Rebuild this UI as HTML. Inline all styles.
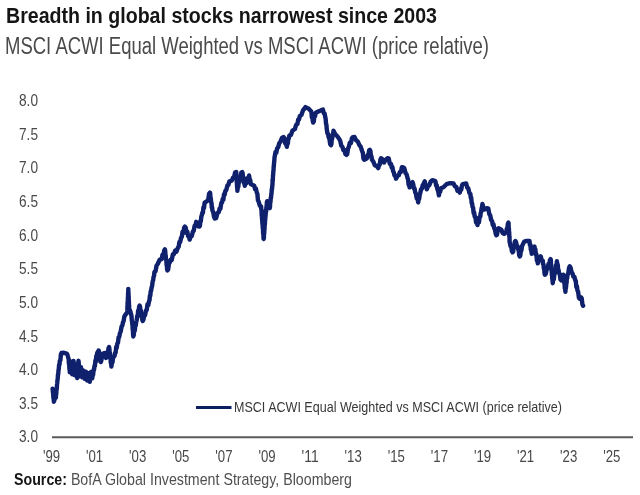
<!DOCTYPE html>
<html><head><meta charset="utf-8"><style>
html,body{margin:0;padding:0;background:#fff;width:640px;height:495px;overflow:hidden}
svg{display:block;will-change:transform}
text{font-family:"Liberation Sans",sans-serif}
</style></head><body>
<svg width="640" height="495" viewBox="0 0 640 495">
<rect width="640" height="495" fill="#fff"/>
<text x="6" y="22.7" font-size="22.6" font-weight="bold" fill="#151515" textLength="431" lengthAdjust="spacingAndGlyphs">Breadth in global stocks narrowest since 2003</text>
<text x="5" y="53.8" font-size="23" fill="#4a4a4a" textLength="484" lengthAdjust="spacingAndGlyphs">MSCI ACWI Equal Weighted vs MSCI ACWI (price relative)</text>
<g font-size="16.5" fill="#484848">
<text x="19" y="106.2" textLength="19" lengthAdjust="spacingAndGlyphs">8.0</text>
<text x="19" y="139.8" textLength="19" lengthAdjust="spacingAndGlyphs">7.5</text>
<text x="19" y="173.4" textLength="19" lengthAdjust="spacingAndGlyphs">7.0</text>
<text x="19" y="207.1" textLength="19" lengthAdjust="spacingAndGlyphs">6.5</text>
<text x="19" y="240.7" textLength="19" lengthAdjust="spacingAndGlyphs">6.0</text>
<text x="19" y="274.3" textLength="19" lengthAdjust="spacingAndGlyphs">5.5</text>
<text x="19" y="307.9" textLength="19" lengthAdjust="spacingAndGlyphs">5.0</text>
<text x="19" y="341.5" textLength="19" lengthAdjust="spacingAndGlyphs">4.5</text>
<text x="19" y="375.2" textLength="19" lengthAdjust="spacingAndGlyphs">4.0</text>
<text x="19" y="408.8" textLength="19" lengthAdjust="spacingAndGlyphs">3.5</text>
<text x="19" y="442.4" textLength="19" lengthAdjust="spacingAndGlyphs">3.0</text>

<text x="42.9" y="461.6" textLength="17.2" lengthAdjust="spacingAndGlyphs">'99</text>
<text x="86.0" y="461.6" textLength="17.2" lengthAdjust="spacingAndGlyphs">'01</text>
<text x="129.1" y="461.6" textLength="17.2" lengthAdjust="spacingAndGlyphs">'03</text>
<text x="172.2" y="461.6" textLength="17.2" lengthAdjust="spacingAndGlyphs">'05</text>
<text x="215.3" y="461.6" textLength="17.2" lengthAdjust="spacingAndGlyphs">'07</text>
<text x="258.4" y="461.6" textLength="17.2" lengthAdjust="spacingAndGlyphs">'09</text>
<text x="301.5" y="461.6" textLength="17.2" lengthAdjust="spacingAndGlyphs">'11</text>
<text x="344.6" y="461.6" textLength="17.2" lengthAdjust="spacingAndGlyphs">'13</text>
<text x="387.7" y="461.6" textLength="17.2" lengthAdjust="spacingAndGlyphs">'15</text>
<text x="430.8" y="461.6" textLength="17.2" lengthAdjust="spacingAndGlyphs">'17</text>
<text x="473.9" y="461.6" textLength="17.2" lengthAdjust="spacingAndGlyphs">'19</text>
<text x="517.0" y="461.6" textLength="17.2" lengthAdjust="spacingAndGlyphs">'21</text>
<text x="560.1" y="461.6" textLength="17.2" lengthAdjust="spacingAndGlyphs">'23</text>
<text x="603.2" y="461.6" textLength="17.2" lengthAdjust="spacingAndGlyphs">'25</text>

</g>
<line x1="52" y1="437.2" x2="633" y2="437.2" stroke="#5a5a5a" stroke-width="2"/>
<line x1="196" y1="407.5" x2="231.5" y2="407.5" stroke="#0c1f5e" stroke-width="3"/>
<text x="234" y="411.9" font-size="14.8" fill="#383838" textLength="328" lengthAdjust="spacingAndGlyphs">MSCI ACWI Equal Weighted vs MSCI ACWI (price relative)</text>
<polyline points="52.6,388.6 52.9,392.3 53.1,393.0 53.4,398.0 53.6,398.3 53.9,401.7 54.9,398.4 55.9,397.7 56.1,394.2 56.3,393.6 56.5,389.2 56.8,388.8 57.0,384.5 57.2,383.3 57.5,379.9 57.7,378.8 58.0,374.2 58.2,374.5 58.5,370.2 58.8,368.7 59.1,364.7 59.5,364.8 59.8,361.0 60.4,360.2 60.9,354.3 61.5,353.0 64.0,352.8 66.6,353.5 67.5,355.0 68.5,358.8 68.7,359.1 68.9,364.0 69.2,363.8 69.4,368.9 69.6,369.3 69.8,372.4 70.1,368.9 70.4,368.0 70.7,362.5 71.0,361.5 71.2,363.2 71.5,368.0 71.7,367.6 72.0,372.8 72.2,374.2 72.4,373.3 72.6,369.0 72.8,368.3 73.1,364.4 73.3,364.7 73.5,360.9 73.7,364.5 73.9,364.6 74.2,369.5 74.4,369.2 74.6,373.9 74.8,375.2 75.1,374.3 75.4,368.4 75.7,368.4 76.0,364.8 76.2,368.4 76.4,367.9 76.6,373.2 76.8,372.0 77.0,376.8 77.2,378.0 77.4,377.5 77.6,372.3 77.8,371.8 77.9,366.5 78.1,366.6 78.3,362.0 78.5,360.8 78.7,362.3 78.9,366.8 79.1,365.8 79.2,371.1 79.4,370.2 79.6,375.2 79.8,376.4 80.1,375.7 80.4,370.4 80.7,370.9 81.0,367.2 81.3,371.0 81.6,370.5 81.9,376.7 82.2,377.3 82.6,376.3 83.1,371.3 83.5,370.6 83.9,372.6 84.4,377.6 84.8,378.8 85.2,378.0 85.6,372.2 86.0,371.8 86.3,372.3 86.6,377.2 86.9,377.2 87.2,380.6 87.6,376.6 88.1,376.3 88.5,373.1 88.9,377.3 89.4,378.0 89.8,381.8 90.1,378.6 90.4,377.7 90.7,372.9 91.0,372.1 91.6,374.4 92.2,378.4 92.7,375.1 93.1,375.0 93.6,369.7 94.0,370.0 94.5,365.7 94.9,366.0 95.4,360.5 95.8,361.7 96.3,355.9 96.7,356.4 97.2,353.1 98.6,350.5 99.1,351.6 99.5,356.2 100.0,355.6 100.4,361.6 100.9,362.0 101.4,360.2 102.0,355.8 102.5,354.0 104.1,353.0 105.0,356.5 106.0,358.0 106.6,356.8 107.2,352.3 107.9,352.8 108.5,348.2 109.1,347.0 109.4,348.8 109.7,353.1 110.0,353.2 110.2,358.1 110.5,357.3 110.8,363.2 111.1,362.7 111.4,366.5 111.9,362.2 112.5,362.4 113.0,358.0 114.5,356.0 115.1,352.8 115.6,352.9 116.2,346.9 116.7,347.9 117.3,343.6 118.0,342.7 118.6,337.3 119.2,337.1 119.9,333.4 120.7,331.5 121.6,326.5 122.4,325.3 123.0,322.1 123.6,321.2 124.2,317.1 124.8,315.6 127.2,312.4 127.3,310.9 127.4,306.6 127.5,306.1 127.6,302.3 127.8,301.5 127.9,297.5 128.0,297.1 128.1,292.9 128.2,293.0 128.3,288.9 128.4,292.6 128.5,292.5 128.6,296.6 128.7,296.8 128.8,301.2 128.9,301.6 129.0,306.4 129.1,304.9 129.2,309.1 130.2,310.8 131.2,315.0 131.5,316.0 131.8,320.3 132.0,321.0 132.3,324.0 132.5,325.4 132.7,330.0 132.9,329.8 133.1,334.9 133.3,336.5 133.8,334.8 134.3,329.8 134.8,330.6 135.2,326.0 135.7,325.8 136.2,322.0 136.7,320.3 137.2,315.9 137.7,316.9 138.1,310.8 138.6,311.8 139.1,306.9 139.6,305.5 140.0,306.6 140.5,310.8 140.9,310.5 141.4,315.7 141.8,314.9 142.3,319.9 142.7,321.0 143.5,319.4 144.3,314.1 145.1,315.2 145.9,310.7 146.7,310.0 147.5,304.2 148.3,305.1 149.1,301.0 149.5,300.4 149.9,295.7 150.3,295.8 150.7,291.2 151.1,290.9 151.5,288.0 152.1,286.0 152.6,281.7 153.2,280.0 153.6,276.4 154.0,276.3 154.4,272.1 155.5,271.3 156.6,265.5 157.7,264.0 159.7,259.7 161.7,259.1 162.5,254.7 163.3,256.1 164.1,250.7 164.9,249.4 165.2,250.8 165.5,255.0 165.7,255.5 166.0,259.7 166.3,259.7 166.6,265.3 166.8,264.1 167.1,269.4 167.4,270.5 168.2,269.3 169.0,263.4 169.8,262.4 170.8,259.6 171.8,259.9 172.8,254.5 173.8,254.3 175.2,250.5 176.5,251.6 177.9,247.8 178.7,246.6 179.4,242.0 180.2,242.1 181.0,238.0 181.8,236.8 182.6,231.7 183.3,233.1 184.1,227.7 184.9,226.6 185.7,227.6 186.5,232.8 187.3,231.5 188.1,236.1 188.9,236.6 189.7,239.6 190.8,236.1 191.8,236.0 192.9,231.5 193.7,230.8 194.6,225.8 195.4,225.9 196.2,221.8 197.8,226.1 199.4,226.6 199.9,225.8 200.4,221.0 200.8,221.2 201.3,216.7 201.8,215.3 202.4,212.5 202.9,212.9 203.4,207.4 204.0,208.0 204.6,202.7 205.1,202.4 207.5,200.7 208.3,199.2 209.1,193.6 209.9,192.7 210.2,193.2 210.5,198.1 210.8,198.4 211.2,202.6 211.5,202.9 211.8,207.5 212.1,207.3 212.4,210.5 213.2,212.0 214.0,216.7 214.8,218.5 216.1,218.2 217.5,213.1 218.8,212.1 219.6,208.4 220.4,208.7 221.3,203.0 222.1,202.4 222.7,198.9 223.4,199.7 224.0,194.3 224.7,194.6 225.3,191.0 226.3,189.9 227.4,185.5 228.4,184.9 229.4,181.3 231.9,180.6 233.0,177.6 234.1,177.0 235.1,172.5 236.2,172.0 236.3,173.5 236.5,178.0 236.7,177.5 236.8,182.8 236.9,182.7 237.1,187.5 237.2,187.2 237.4,190.9 237.8,186.8 238.3,186.9 238.7,182.3 239.2,182.3 239.6,178.9 240.5,177.6 241.3,172.6 242.2,172.0 242.6,173.0 243.1,178.0 243.5,177.3 243.9,183.0 244.4,182.3 244.8,185.8 245.7,182.3 246.5,183.0 247.4,178.3 248.2,179.1 249.1,175.5 249.7,179.6 250.2,179.9 250.8,184.1 254.2,185.8 255.1,189.3 255.9,188.5 256.8,192.6 257.4,193.9 257.9,200.1 258.5,201.2 259.8,205.7 261.1,206.4 261.3,209.7 261.5,209.7 261.7,215.3 261.8,214.0 262.0,218.9 262.2,219.6 262.4,223.9 262.6,224.3 262.8,228.3 263.0,228.9 263.1,233.5 263.3,232.7 263.5,238.5 263.7,239.0 263.9,237.6 264.0,233.0 264.2,233.8 264.4,229.2 264.5,229.6 264.7,223.7 264.9,224.3 265.1,219.3 265.2,220.1 265.4,216.7 265.6,215.8 265.9,210.3 266.1,211.8 266.4,207.0 266.6,206.8 266.9,202.1 267.1,201.2 268.0,202.4 268.8,206.7 269.7,208.1 270.0,206.9 270.2,202.1 270.5,202.1 270.7,197.8 271.0,198.2 271.3,194.0 271.5,193.6 271.8,188.8 272.0,189.3 272.3,185.8 272.5,184.3 272.6,179.4 272.8,180.8 273.0,174.9 273.1,175.4 273.3,171.4 273.5,170.8 273.7,166.2 273.8,166.6 274.0,163.4 274.2,161.9 274.5,157.6 274.7,156.5 275.5,152.0 276.3,152.8 277.1,148.4 278.2,147.2 279.3,143.2 280.4,141.9 282.0,137.7 283.6,137.1 284.4,138.1 285.2,143.5 286.0,143.6 286.8,146.8 287.3,143.8 287.8,143.8 288.3,138.8 288.8,138.5 289.3,135.5 290.9,134.9 292.5,130.6 294.9,129.0 296.1,125.1 297.4,124.1 298.2,119.7 299.0,119.5 299.8,116.0 301.4,115.0 303.0,110.4 305.5,107.1 308.7,108.8 311.1,111.2 311.5,112.7 311.9,117.5 312.4,116.7 312.8,121.3 313.2,122.5 313.8,121.4 314.4,115.8 315.1,116.2 315.7,112.8 318.9,111.2 322.9,109.6 323.7,113.1 324.6,113.7 325.4,117.7 325.7,119.3 326.0,123.7 326.4,124.6 326.7,128.7 327.0,130.6 327.5,133.7 328.1,133.9 328.6,137.1 329.4,138.8 330.2,144.1 331.0,145.2 331.4,143.8 331.8,139.0 332.2,138.8 332.7,134.4 333.1,133.7 333.5,130.6 335.1,134.0 336.7,135.5 339.1,138.7 340.2,140.7 341.3,145.7 342.4,146.8 343.4,150.2 344.4,150.0 345.4,154.1 346.4,154.9 347.2,154.1 348.0,148.7 348.8,146.8 349.8,142.7 350.9,143.2 351.9,138.2 352.9,137.1 354.5,137.0 356.1,140.3 357.8,141.6 359.4,145.2 360.8,146.9 362.1,151.2 362.8,152.5 363.5,158.8 364.2,159.7 367.0,158.2 367.7,155.0 368.4,155.7 369.1,150.3 369.8,149.8 370.4,150.8 370.9,155.9 371.4,156.1 372.0,159.7 373.4,161.8 374.8,165.3 376.6,165.9 378.3,168.1 379.0,164.9 379.7,164.8 380.4,159.7 381.1,158.2 382.6,159.5 384.0,162.5 385.8,159.6 387.5,158.2 388.7,158.4 389.8,163.8 391.0,163.9 391.7,167.5 392.4,167.1 393.1,171.2 393.8,172.4 394.5,175.5 395.3,175.4 396.0,178.7 397.4,176.1 398.8,175.2 399.9,171.9 400.9,172.1 401.9,167.2 403.0,167.1 404.3,168.2 405.6,173.1 406.6,174.3 407.6,178.2 408.1,179.5 408.6,184.7 409.1,184.0 409.6,187.3 411.1,183.6 412.6,182.2 413.2,184.1 413.9,188.4 414.6,188.5 415.2,192.3 415.9,193.5 416.7,198.3 417.4,198.6 418.2,202.4 418.7,199.5 419.2,198.8 419.7,194.8 420.2,193.3 421.0,189.5 421.9,188.7 422.7,185.3 423.7,183.9 424.7,181.2 425.4,184.9 426.1,185.6 426.8,189.3 428.1,185.9 429.3,185.3 430.8,181.4 432.3,180.2 435.4,181.2 436.1,185.5 436.7,185.1 437.4,189.3 438.1,190.8 438.9,195.4 439.6,191.2 440.2,191.8 440.9,188.3 443.4,187.3 446.5,184.2 450.0,183.2 453.5,183.4 454.9,186.3 456.3,187.0 457.5,190.8 458.6,189.9 459.8,192.6 460.5,188.9 461.2,189.8 462.0,185.5 462.7,184.1 466.2,183.4 467.2,187.6 468.3,188.4 469.4,193.0 470.4,194.0 470.8,198.0 471.2,197.5 471.7,203.3 472.1,203.3 472.5,206.7 473.1,207.8 473.6,213.0 474.1,212.4 474.7,216.6 475.4,217.0 476.1,222.6 476.8,221.6 477.5,225.1 478.2,221.2 478.9,222.4 479.6,217.2 480.3,216.6 480.7,213.1 481.1,212.2 481.6,208.2 482.0,207.6 482.4,203.9 483.4,207.5 484.5,209.5 487.4,208.1 488.3,208.7 489.3,214.2 490.2,215.2 491.1,219.7 492.1,221.2 492.8,225.0 493.5,224.3 494.2,228.2 494.9,229.3 495.7,233.6 496.4,235.3 497.1,234.6 497.8,228.9 498.5,228.2 501.3,229.7 502.7,233.1 504.1,233.9 506.2,232.5 506.8,228.7 507.3,229.1 507.8,224.3 508.4,222.6 508.6,223.2 508.7,228.0 508.9,228.5 509.0,232.4 509.2,232.0 509.3,236.7 509.5,236.4 509.6,242.1 509.8,242.4 510.5,246.2 511.2,246.2 511.9,251.1 512.6,252.3 513.2,251.6 513.7,246.1 514.3,247.0 514.8,241.8 515.4,241.0 516.1,242.3 516.8,246.0 517.5,246.3 518.2,249.4 518.7,250.2 519.2,255.2 519.7,256.5 520.3,255.6 520.8,251.3 521.4,250.4 521.9,246.5 522.5,245.2 524.2,241.6 526.0,241.0 529.5,241.0 529.9,245.1 530.4,244.6 530.8,249.6 531.3,249.8 531.7,253.7 532.6,250.1 533.6,250.2 534.5,246.6 535.0,249.8 535.4,249.6 535.9,254.7 536.4,254.3 536.9,260.5 537.3,260.3 537.8,263.4 538.8,259.8 539.7,260.4 540.7,256.3 541.8,260.4 542.8,260.6 543.1,264.2 543.5,264.3 543.8,268.6 544.2,268.1 544.5,273.3 544.9,274.7 545.8,273.7 546.8,269.1 547.7,267.6 548.4,264.1 549.2,265.2 549.9,260.4 550.6,259.1 550.8,259.8 551.0,265.2 551.2,264.5 551.4,270.3 551.7,270.2 551.9,275.4 552.1,274.7 552.3,279.1 552.5,280.1 552.7,283.2 553.2,279.4 553.8,279.5 554.3,274.7 554.8,273.3 555.2,270.1 555.6,269.6 556.1,265.0 556.5,265.4 556.9,261.3 557.3,264.4 557.7,264.5 558.2,270.2 558.6,270.1 559.0,273.3 559.7,273.8 560.5,279.6 561.2,280.4 562.2,279.4 563.3,274.7 563.6,278.2 563.9,278.4 564.2,283.1 564.5,282.5 564.8,288.3 565.1,288.2 565.4,291.7 565.7,288.1 566.0,287.9 566.3,283.7 566.6,282.8 566.9,277.8 567.2,278.1 567.5,274.7 568.2,273.7 569.0,268.1 569.7,266.2 570.6,267.6 571.6,272.2 572.5,273.3 573.4,276.6 574.4,276.9 575.3,280.4 575.8,281.0 576.3,287.1 576.9,286.1 577.4,290.3 578.1,291.7 578.9,297.8 579.6,298.8 581.0,297.3 581.7,298.3 582.4,304.3 583.1,305.8" fill="none" stroke="#0f216c" stroke-width="4.4" stroke-linejoin="round" stroke-linecap="round"/>
<text x="14" y="485" font-size="17" fill="#505050" textLength="338" lengthAdjust="spacingAndGlyphs"><tspan font-weight="bold" fill="#151515">Source:</tspan> BofA Global Investment Strategy, Bloomberg</text>
</svg>
</body></html>
